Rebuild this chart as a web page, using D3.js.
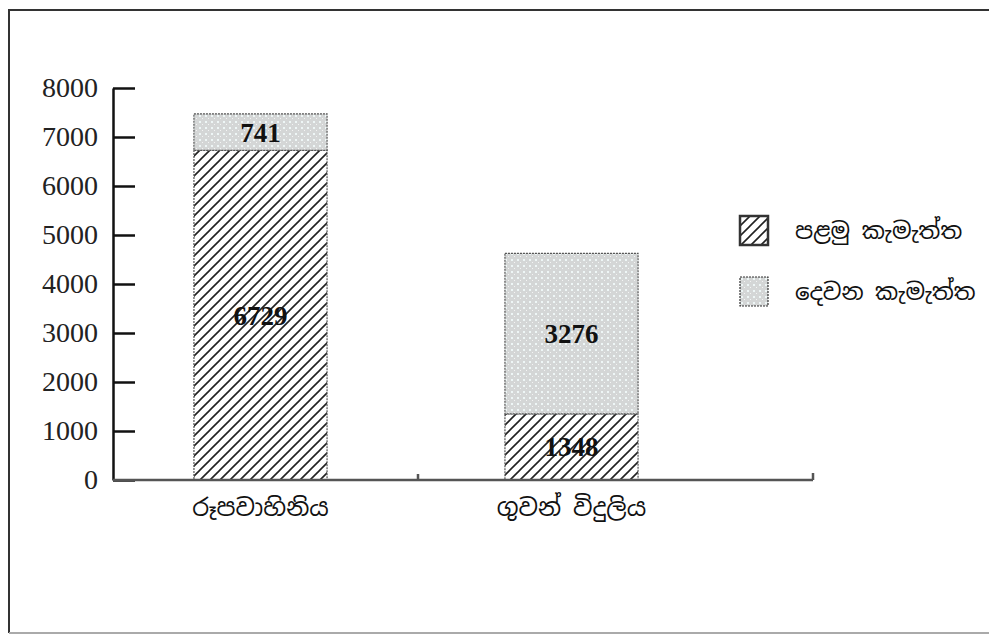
<!DOCTYPE html>
<html>
<head>
<meta charset="utf-8">
<script src="https://cdn.jsdelivr.net/npm/d3@7"></script>
<style>
  body { margin: 0; background: #fff; }
  svg { display: block; }
  .tick text { font-family: "Liberation Serif", "Times New Roman", serif; }
  .si { font-family: "Noto Sans Sinhala", "Noto Serif Sinhala", "Iskoola Pota", "Noto Sans", sans-serif; }
</style>
</head>
<body>
<script>
var categories = ["රූපවාහිනිය", "ගුවන් විදුලිය"];
var seriesNames = ["පළමු කැමැත්ත", "දෙවන කැමැත්ත"];
var firstPref = [6729, 1348];
var secondPref = [741, 3276];
var yTicks = [0, 1000, 2000, 3000, 4000, 5000, 6000, 7000, 8000];

var width = 989,
  height = 635;

var rows = categories.map(function (c, i) {
  return { cat: c, first: firstPref[i], second: secondPref[i] };
});

var svg = d3.select("body").append("svg")
  .attr("width", width)
  .attr("height", height);

// patterns
var defs = svg.append("defs");
var hatch = defs.append("pattern")
  .attr("id", "hatch")
  .attr("patternUnits", "userSpaceOnUse")
  .attr("width", 10)
  .attr("height", 10);
hatch.append("rect").attr("width", 10).attr("height", 10).attr("fill", "#fff");
hatch.append("path")
  .attr("d", "M-2,12 L12,-2 M-2,2 L2,-2 M8,12 L12,8")
  .attr("stroke", "#222")
  .attr("stroke-width", 1.6);

var dots = defs.append("pattern")
  .attr("id", "dots")
  .attr("patternUnits", "userSpaceOnUse")
  .attr("width", 6)
  .attr("height", 6);
dots.append("rect").attr("width", 6).attr("height", 6).attr("fill", "#d4d6d6");
dots.append("rect").attr("x", 1).attr("y", 1).attr("width", 2).attr("height", 2).attr("fill", "#eef6f6");
dots.append("rect").attr("x", 4).attr("y", 4).attr("width", 1).attr("height", 1).attr("fill", "#f4f4f4");

var fills = ["url(#hatch)", "url(#dots)"];

// outer frame (right edge falls outside the picture)
svg.append("path")
  .attr("d", "M989,10 H9 V633")
  .attr("fill", "none")
  .attr("stroke", "#333")
  .attr("stroke-width", 2);
svg.append("path")
  .attr("d", "M9,633 H989")
  .attr("fill", "none")
  .attr("stroke", "#aaa")
  .attr("stroke-width", 2);

var x = d3.scaleBand()
  .domain(categories)
  .range([105, 727])
  .paddingInner(0.572)
  .paddingOuter(0.286);

var y = d3.scaleLinear()
  .domain([0, 8000])
  .range([480, 88]);

var stack = d3.stack().keys(["first", "second"]);
var series = stack(rows);

var groups = svg.selectAll(".series")
  .data(series)
  .enter().append("g")
  .attr("class", "series")
  .attr("fill", function (d, i) { return fills[i]; });

groups.selectAll("rect")
  .data(function (d) { return d; })
  .enter().append("rect")
  .attr("x", function (d) { return x(d.data.cat); })
  .attr("y", function (d) { return y(d[1]); })
  .attr("width", x.bandwidth())
  .attr("height", function (d) { return y(d[0]) - y(d[1]); })
  .attr("stroke", "#555")
  .attr("stroke-width", 1.2)
  .attr("stroke-dasharray", "2,1");

// value labels
groups.selectAll("text")
  .data(function (d) { return d.map(function (p) { return { p: p, key: d.key }; }); })
  .enter().append("text")
  .attr("x", function (d) { return x(d.p.data.cat) + x.bandwidth() / 2; })
  .attr("y", function (d) { return (y(d.p[0]) + y(d.p[1])) / 2; })
  .attr("dy", "0.35em")
  .attr("text-anchor", "middle")
  .attr("font-family", "Liberation Serif, Times New Roman, serif")
  .attr("font-weight", "bold")
  .attr("font-size", 27)
  .attr("fill", "#111")
  .text(function (d) { return d.p.data[d.key]; });

// y axis
var yAxis = d3.axisLeft(y)
  .tickValues(yTicks)
  .tickFormat(d3.format("d"))
  .tickSizeInner(-22)
  .tickSizeOuter(0)
  .tickPadding(15);

var gy = svg.append("g")
  .attr("transform", "translate(113,0)")
  .call(yAxis);
gy.select(".domain").attr("stroke", "#111").attr("stroke-width", 2.5);
gy.selectAll(".tick line").attr("stroke", "#111").attr("stroke-width", 2.5);
gy.selectAll(".tick text")
  .attr("font-size", 28)
  .attr("fill", "#222");

// x axis
var gx = svg.append("g").attr("transform", "translate(0,480)");
gx.append("path")
  .attr("d", "M113,0 H813 M418,0 V-6 M813,0 V-7")
  .attr("fill", "none")
  .attr("stroke", "#555")
  .attr("stroke-width", 2.5);

gx.selectAll(".cat")
  .data(categories)
  .enter().append("text")
  .attr("class", "si")
  .attr("x", function (d) { return x(d) + x.bandwidth() / 2; })
  .attr("y", 36)
  .attr("text-anchor", "middle")
  .attr("font-size", 24)
  .attr("fill", "#111")
  .text(function (d) { return d; });

// legend
var legend = svg.selectAll(".legend")
  .data(seriesNames)
  .enter().append("g")
  .attr("class", "legend")
  .attr("transform", function (d, i) { return "translate(740," + (216 + i * 61) + ")"; });

legend.append("rect")
  .attr("width", 28)
  .attr("height", 29)
  .attr("fill", function (d, i) { return fills[i]; })
  .attr("stroke", "#333")
  .attr("stroke-width", function (d, i) { return i == 0 ? 2.5 : 1.2; })
  .attr("stroke-dasharray", function (d, i) { return i == 0 ? null : "2,1"; });

legend.append("text")
  .attr("class", "si")
  .attr("x", 55)
  .attr("y", 15)
  .attr("dy", "0.35em")
  .attr("font-size", 23)
  .attr("fill", "#111")
  .text(function (d) { return d; });
</script>
</body>
</html>
